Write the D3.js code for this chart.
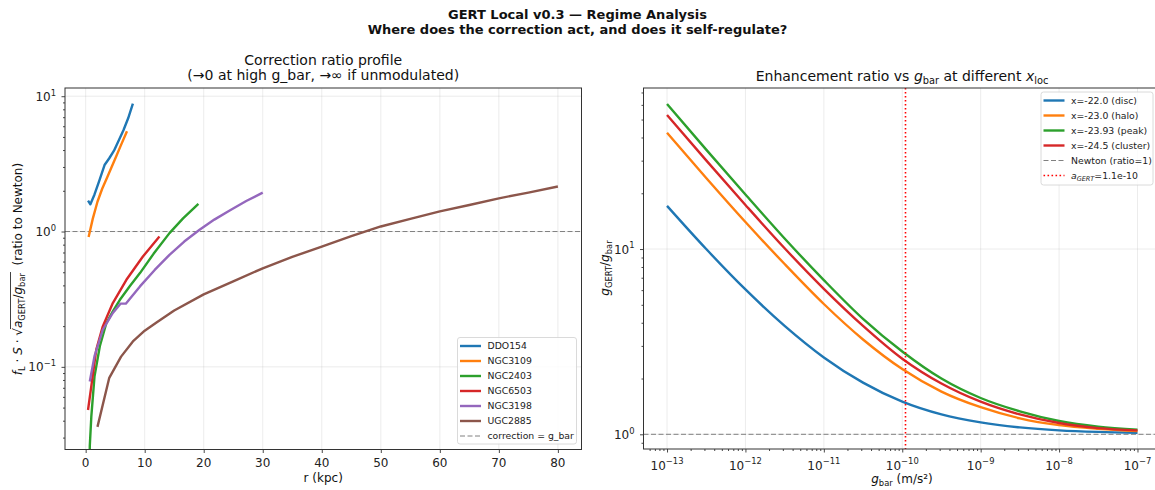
<!DOCTYPE html>
<html>
<head>
<meta charset="utf-8">
<script src="https://cdn.jsdelivr.net/npm/d3@7"></script>
<style>
  body { margin: 0; background: #fff; }
  svg { font-family: "DejaVu Sans", sans-serif; }
  text { white-space: pre; }
</style>
</head>
<body>
<div id="chart"></div>
<script>
// ---- left panel data: r (kpc) vs correction ratio ----
const galaxyNames = ["DDO154", "NGC3109", "NGC2403", "NGC6503", "NGC3198", "UGC2885"];
const galaxyColors = ["#1f77b4", "#ff7f0e", "#2ca02c", "#d62728", "#9467bd", "#8c564b"];

const ddo154R = [0.4, 0.8, 1.5, 2.3, 3.2, 4.0, 4.8, 5.6, 6.4, 7.2, 8.0];
const ddo154Ratio = [1.69, 1.59, 1.88, 2.37, 3.10, 3.48, 3.96, 4.70, 5.60, 6.87, 8.8];

const ngc3109R = [0.5, 1.2, 2.0, 2.8, 3.6, 4.4, 5.2, 6.0, 7.0];
const ngc3109Ratio = [0.91, 1.24, 1.66, 2.07, 2.49, 3.0, 3.61, 4.37, 5.5];

const ngc2403R = [0.6, 0.7, 0.96, 1.5, 2.4, 3.5, 4.6, 5.8, 7.5, 9.2, 11.5, 14.2, 16.5, 19.1];
const ngc2403Ratio = [0.012, 0.026, 0.043, 0.085, 0.142, 0.21, 0.257, 0.313, 0.396, 0.493, 0.684, 0.973, 1.25, 1.6];

const ngc6503R = [0.4, 0.96, 1.4, 1.8, 2.9, 4.6, 6.9, 9.7, 12.5];
const ngc6503Ratio = [0.048, 0.072, 0.1, 0.134, 0.199, 0.296, 0.44, 0.654, 0.918];

const ngc3198R = [0.7, 1.5, 2.9, 4.6, 5.9, 6.8, 9.2, 11.7, 14.2, 16.7, 19.3, 21.8, 24.4, 27.2, 30.0];
const ngc3198Ratio = [0.078, 0.12, 0.188, 0.25, 0.293, 0.293, 0.393, 0.52, 0.673, 0.843, 1.03, 1.225, 1.43, 1.68, 1.94];

const ugc2885R = [2, 4, 6, 8, 10, 12, 15, 20, 25, 30, 35, 40, 45, 50, 55, 60, 65, 70, 75, 80];
const ugc2885Ratio = [0.036, 0.083, 0.119, 0.154, 0.185, 0.213, 0.261, 0.343, 0.428, 0.535, 0.649, 0.775, 0.923, 1.09, 1.24, 1.41, 1.57, 1.76, 1.94, 2.15];

const galaxyR = [ddo154R, ngc3109R, ngc2403R, ngc6503R, ngc3198R, ugc2885R];
const galaxyRatio = [ddo154Ratio, ngc3109Ratio, ngc2403Ratio, ngc6503Ratio, ngc3198Ratio, ugc2885Ratio];

// ---- right panel data: enhancement ratio vs g_bar ----
const gBar = [1e-13, 3.16e-13, 1e-12, 3.16e-12, 1e-11, 3.16e-11, 1e-10, 3.16e-10, 1e-9, 3.16e-9, 1e-8, 3.16e-8, 1e-7];
const regimeLabels = ["x=-22.0 (disc)", "x=-23.0 (halo)", "x=-23.93 (peak)", "x=-24.5 (cluster)"];
const regimeColors = ["#1f77b4", "#ff7f0e", "#2ca02c", "#d62728"];
const discRatio = [17.1, 10.0, 6.05, 3.85, 2.6, 1.9, 1.5, 1.28, 1.16, 1.09, 1.05, 1.03, 1.02];
const haloRatio = [42.4, 24.2, 14.0, 8.3, 5.05, 3.25, 2.25, 1.7, 1.4, 1.22, 1.12, 1.07, 1.04];
const peakRatio = [60.6, 34.4, 19.7, 11.4, 6.8, 4.2, 2.8, 2.0, 1.57, 1.33, 1.18, 1.10, 1.06];
const clusterRatio = [52.9, 30.1, 17.3, 10.1, 6.1, 3.85, 2.56, 1.88, 1.5, 1.28, 1.15, 1.08, 1.05];
const regimeRatio = [discRatio, haloRatio, peakRatio, clusterRatio];
const aGert = 1.1e-10;

const leftXTicks = [0, 10, 20, 30, 40, 50, 60, 70, 80];

// ---- layout ----
const width = 1155, height = 490;
const TICK = 12, LEG = 9.3;
const L = { x0: 65, x1: 581.5, y0: 88, y1: 449.5 };
const R = { x0: 643.5, x1: 1161, y0: 88, y1: 449 };

const svg = d3.select("#chart").append("svg")
    .attr("width", width)
    .attr("height", height);

const xL = d3.scaleLinear().domain([-3.5, 84]).range([L.x0, L.x1]);
const yL = d3.scaleLog().domain([0.0245, 11.5]).range([L.y1, L.y0]);
const xR = d3.scaleLog().domain([Math.pow(10, -13.3), Math.pow(10, -6.7)]).range([R.x0, R.x1]);
const yR = d3.scaleLog().domain([0.833, 74]).range([R.y1, R.y0]);

const defs = svg.append("defs");
[["clipL", L], ["clipR", R]].forEach(([id, b]) => {
    defs.append("clipPath").attr("id", id).append("rect")
        .attr("x", b.x0).attr("y", b.y0)
        .attr("width", b.x1 - b.x0).attr("height", b.y1 - b.y0);
});

// text with italic / sub / sup pieces
function rich(sel, parts, size) {
    let shift = 0;
    const spans = [];
    parts.forEach(([t, s]) => {
        s = s || "";
        const ts = sel.append("tspan").text(t);
        let target = 0;
        if (s.includes("sub")) target = size * 0.24;
        if (s.includes("sup")) target = -size * 0.42;
        if (target - shift !== 0) ts.attr("dy", target - shift);
        shift = target;
        if (s.includes("sub") || s.includes("sup")) ts.attr("font-size", size * 0.7);
        if (s.startsWith("i")) ts.attr("font-style", "italic");
        spans.push(ts);
    });
    return spans;
}

const isMajor = v => Math.abs(Math.log10(v) - Math.round(Math.log10(v))) < 1e-6;
const expo = v => String(Math.round(Math.log10(v))).replace("-", "\u2212");

// grid lines for one panel
function drawFrame(b, xs, ys, xLog) {
    const g = svg.append("g");
    const xMajor = xLog ? xs.ticks().filter(isMajor) : leftXTicks;
    const yMajor = ys.ticks().filter(isMajor);

    g.selectAll(".gx").data(xMajor).enter().append("line")
        .attr("x1", d => xs(d)).attr("x2", d => xs(d))
        .attr("y1", b.y0).attr("y2", b.y1)
        .attr("stroke", "#b0b0b0").attr("stroke-opacity", 0.3).attr("stroke-width", 0.8);
    g.selectAll(".gy").data(yMajor).enter().append("line")
        .attr("x1", b.x0).attr("x2", b.x1)
        .attr("y1", d => ys(d)).attr("y2", d => ys(d))
        .attr("stroke", "#b0b0b0").attr("stroke-opacity", 0.3).attr("stroke-width", 0.8);
    return { xMajor, yMajor };
}

// ticks, tick labels and spines
function drawAxes(b, xs, ys, xLog, majors) {
    const g = svg.append("g");
    const xMinor = xLog ? xs.ticks().filter(v => !isMajor(v)) : [];
    g.append("g").attr("transform", `translate(0,${b.y1})`)
        .call(d3.axisBottom(xs).tickValues(majors.xMajor).tickSize(3.5).tickFormat(""));
    if (xLog) {
        g.append("g").attr("transform", `translate(0,${b.y1})`)
            .call(d3.axisBottom(xs).tickValues(xMinor).tickSize(2).tickFormat(""));
    }
    const yMinor = ys.ticks().filter(v => !isMajor(v));
    g.append("g").attr("transform", `translate(${b.x0},0)`)
        .call(d3.axisLeft(ys).tickValues(majors.yMajor).tickSize(3.5).tickFormat(""));
    g.append("g").attr("transform", `translate(${b.x0},0)`)
        .call(d3.axisLeft(ys).tickValues(yMinor).tickSize(2).tickFormat(""));
    g.selectAll(".domain").remove();
    g.selectAll(".tick line").attr("stroke", "#333").attr("stroke-width", 0.9);

    majors.xMajor.forEach(v => {
        const t = g.append("text").attr("x", xs(v)).attr("text-anchor", "middle")
            .attr("font-size", TICK).attr("fill", "#222");
        if (xLog) {
            t.attr("y", b.y1 + 20.5);
            rich(t, [["10"], [expo(v), "sup"]], TICK);
        } else {
            t.attr("y", b.y1 + 17).text(v);
        }
    });
    majors.yMajor.forEach(v => {
        const t = g.append("text").attr("x", b.x0 - 9).attr("y", ys(v) + 4.5)
            .attr("text-anchor", "end").attr("font-size", TICK).attr("fill", "#222");
        rich(t, [["10"], [expo(v), "sup"]], TICK);
    });

    g.append("rect").attr("x", b.x0).attr("y", b.y0)
        .attr("width", b.x1 - b.x0).attr("height", b.y1 - b.y0)
        .attr("fill", "none").attr("stroke", "#333").attr("stroke-width", 1);
}

// ================= left panel =================
const majL = drawFrame(L, xL, yL, false);

svg.append("line")
    .attr("x1", L.x0).attr("x2", L.x1).attr("y1", yL(1)).attr("y2", yL(1))
    .attr("stroke", "#808080").attr("stroke-width", 1).attr("stroke-dasharray", "5,2.5");

const lineL = d3.line().x(d => xL(d[0])).y(d => yL(d[1]));
const gL = svg.append("g").attr("clip-path", "url(#clipL)");
galaxyNames.forEach((name, i) => {
    const pts = galaxyR[i].map((r, j) => [r, galaxyRatio[i][j]]);
    gL.append("path").datum(pts)
        .attr("d", lineL)
        .attr("fill", "none")
        .attr("stroke", galaxyColors[i])
        .attr("stroke-width", 2.4)
        .attr("stroke-linejoin", "round");
});

drawAxes(L, xL, yL, false, majL);

// ================= right panel =================
const majR = drawFrame(R, xR, yR, true);

svg.append("line")
    .attr("x1", R.x0).attr("x2", R.x1).attr("y1", yR(1)).attr("y2", yR(1))
    .attr("stroke", "#808080").attr("stroke-width", 1).attr("stroke-dasharray", "5,2.5");

const lineR = d3.line().x(d => xR(d[0])).y(d => yR(d[1])).curve(d3.curveMonotoneX);
const gR = svg.append("g").attr("clip-path", "url(#clipR)");
regimeLabels.forEach((lab, i) => {
    const pts = gBar.map((g, j) => [g, regimeRatio[i][j]]);
    gR.append("path").datum(pts)
        .attr("d", lineR)
        .attr("fill", "none")
        .attr("stroke", regimeColors[i])
        .attr("stroke-width", 2.4);
});

svg.append("line")
    .attr("x1", xR(aGert)).attr("x2", xR(aGert)).attr("y1", R.y0).attr("y2", R.y1)
    .attr("stroke", "#ff0000").attr("stroke-width", 1.6).attr("stroke-dasharray", "1.6,2.4");

drawAxes(R, xR, yR, true, majR);

// ================= titles & labels =================
const title = svg.append("g").attr("font-weight", "bold").attr("font-size", 13).attr("fill", "#111");
title.append("text").attr("x", 577.5).attr("y", 19).attr("text-anchor", "middle")
    .text("GERT Local v0.3 \u2014 Regime Analysis");
title.append("text").attr("x", 577.5).attr("y", 33.5).attr("text-anchor", "middle")
    .text("Where does the correction act, and does it self-regulate?");

const cxL = (L.x0 + L.x1) / 2;
svg.append("text").attr("x", cxL).attr("y", 65).attr("text-anchor", "middle")
    .attr("font-size", 14).attr("fill", "#111").text("Correction ratio profile");
svg.append("text").attr("x", cxL).attr("y", 80).attr("text-anchor", "middle")
    .attr("font-size", 14).attr("fill", "#111").text("(\u21920 at high g_bar, \u2192\u221e if unmodulated)");

const rt = svg.append("text").attr("x", 902).attr("y", 81).attr("text-anchor", "middle")
    .attr("font-size", 14).attr("fill", "#111");
rich(rt, [["Enhancement ratio vs "], ["g", "i"], ["bar", "sub"], [" at different "], ["x", "i"], ["loc", "sub"]], 14);

svg.append("text").attr("x", cxL).attr("y", 482).attr("text-anchor", "middle")
    .attr("font-size", 12).attr("fill", "#111").text("r (kpc)");

const xlR = svg.append("text").attr("x", 902).attr("y", 483).attr("text-anchor", "middle")
    .attr("font-size", 12).attr("fill", "#111");
rich(xlR, [["g", "i"], ["bar", "sub"], [" (m/s\u00b2)"]], 12);

// left y label with square root
const ylg = svg.append("g").attr("transform", "translate(22,269) rotate(-90)");
const ylt = ylg.append("text").attr("text-anchor", "middle").attr("font-size", 12).attr("fill", "#111");
const sp = rich(ylt, [["f", "i"], ["L", "sub"], [" \u00b7 "], ["S", "i"], [" \u00b7 \u221a"],
    ["a", "i"], ["GERT", "sub"], ["/"], ["g", "i"], ["bar", "sub"], ["  (ratio to Newton)"]], 12);
const rootSpan = sp[4].node();
const radEnd = sp[9].node();
const ox0 = rootSpan.getEndPositionOfChar(rootSpan.getNumberOfChars() - 1).x - 1;
const ox1 = radEnd.getEndPositionOfChar(radEnd.getNumberOfChars() - 1).x + 1;
ylg.append("line").attr("x1", ox0).attr("x2", ox1).attr("y1", -11.5).attr("y2", -11.5)
    .attr("stroke", "#111").attr("stroke-width", 0.8);

const yrg = svg.append("g").attr("transform", "translate(609,268) rotate(-90)");
const yrt = yrg.append("text").attr("text-anchor", "middle").attr("font-size", 12).attr("fill", "#111");
rich(yrt, [["g", "i"], ["GERT", "sub"], ["/"], ["g", "i"], ["bar", "sub"]], 12);

// ================= legends =================
function legend(x, y, w, h, rows) {
    const g = svg.append("g");
    g.append("rect").attr("x", x).attr("y", y).attr("width", w).attr("height", h)
        .attr("rx", 2.5).attr("fill", "#fff").attr("fill-opacity", 0.85)
        .attr("stroke", "#d0d0d0").attr("stroke-width", 0.8);
    rows.forEach((row, i) => {
        const yy = y + 8.5 + i * 15;
        g.append("line").attr("x1", x + 2.5).attr("x2", x + 23.5).attr("y1", yy).attr("y2", yy)
            .attr("stroke", row.color).attr("stroke-width", row.dash ? (row.dash === "dot" ? 1.6 : 1) : 2.4)
            .attr("stroke-dasharray", row.dash === "dash" ? "5,2.5" : row.dash === "dot" ? "1.6,2.4" : null);
        const t = g.append("text").attr("x", x + 30).attr("y", yy + 3.4)
            .attr("font-size", LEG).attr("fill", "#222");
        rich(t, row.parts, LEG);
    });
}

legend(457.5, 337.5, 119, 106.5,
    galaxyNames.map((n, i) => ({ color: galaxyColors[i], parts: [[n]] }))
        .concat([{ color: "#808080", dash: "dash", parts: [["correction = g_bar"]] }]));

legend(1041, 92, 112, 93,
    regimeLabels.map((n, i) => ({ color: regimeColors[i], parts: [[n]] }))
        .concat([
            { color: "#808080", dash: "dash", parts: [["Newton (ratio=1)"]] },
            { color: "#ff0000", dash: "dot", parts: [["a", "i"], ["GERT", "isub"], ["=1.1e-10"]] }
        ]));
</script>
</body>
</html>
